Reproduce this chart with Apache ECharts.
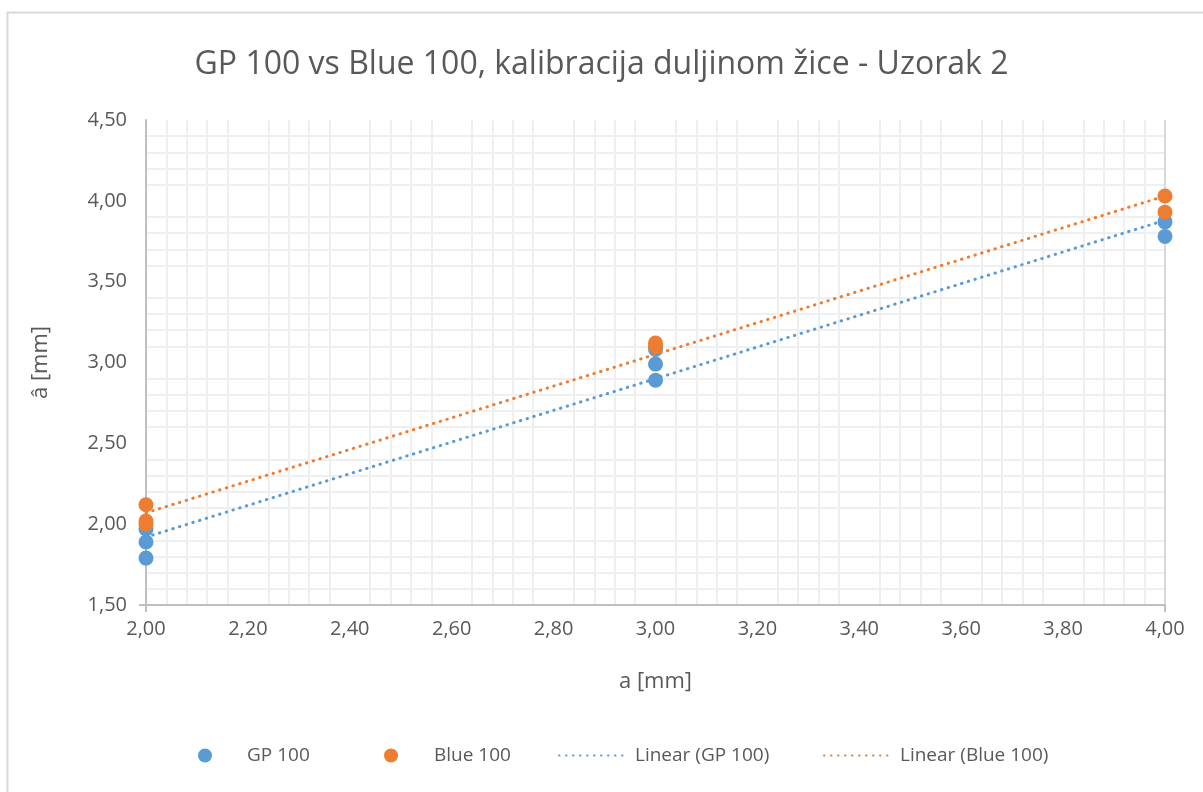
<!DOCTYPE html>
<html>
<head>
<meta charset="utf-8">
<script src="https://cdn.jsdelivr.net/npm/echarts@6/dist/echarts.min.js"></script>
<style>
  html, body { margin: 0; padding: 0; background: #fff; }
  #chart { width: 1203px; height: 792px; }
</style>
</head>
<body>
<div id="chart"></div>
<script>
// measured points (a, â)
var gpX = [2, 2, 2, 3, 3, 3, 4, 4];
var gpY = [1.79, 1.89, 1.97, 2.89, 2.99, 3.08, 3.78, 3.87];
var blueX = [2, 2, 2, 3, 3, 4, 4];
var blueY = [2.00, 2.02, 2.12, 3.10, 3.12, 3.93, 4.03];

// trend line ends
var trendX = [2, 4];
var gpTrend = [1.92, 3.88];
var blueTrend = [2.07, 4.03];

var xTicks = [2.0, 2.2, 2.4, 2.6, 2.8, 3.0, 3.2, 3.4, 3.6, 3.8, 4.0];
var yTicks = [1.5, 2.0, 2.5, 3.0, 3.5, 4.0, 4.5];

var BLUE = '#5b9bd5';
var ORANGE = '#ed7d31';
var TXT = '#595959';
var FONT = 'Open Sans';

function pairs(xs, ys) {
  return xs.map(function (x, i) { return [x, ys[i]]; });
}
function fmt(v) {
  return v.toFixed(2).replace('.', ',');
}

var chart = echarts.init(document.getElementById('chart'));

function legendAt(left, name, w, textPad, round) {
  var l = {
    left: left,
    top: 746,
    padding: 0,
    itemWidth: w,
    itemHeight: 14,
    selectedMode: false,
    data: [name],
    textStyle: { color: TXT, fontSize: 19, fontFamily: FONT, padding: [0, 0, 0, textPad] }
  };
  if (round) {
    l.icon = 'circle';
  } else {
    l.itemStyle = { opacity: 0 };
  }
  return l;
}

chart.setOption({
  animation: false,
  backgroundColor: '#fff',
  textStyle: { fontFamily: FONT },
  title: {
    text: 'GP 100 vs Blue 100, kalibracija duljinom žice - Uzorak 2',
    left: 'center',
    top: 44,
    textStyle: { color: TXT, fontSize: 32, fontWeight: 'normal', fontFamily: FONT }
  },
  graphic: [{
    type: 'rect',
    shape: { x: 7.5, y: 12.5, width: 1300, height: 900 },
    style: { fill: 'none', stroke: '#d9d9d9', lineWidth: 2 },
    silent: true
  }],
  legend: [
    legendAt(198, 'GP 100', 14, 30, true),
    legendAt(384, 'Blue 100', 14, 31, true),
    legendAt(558, 'Linear (GP 100)', 67, 4, false),
    legendAt(823, 'Linear (Blue 100)', 67, 4, false)
  ],
  grid: { left: 146, right: 38, top: 120, bottom: 187, containLabel: false },
  xAxis: {
    type: 'value',
    min: xTicks[0],
    max: xTicks[xTicks.length - 1],
    interval: 0.2,
    name: 'a [mm]',
    nameLocation: 'middle',
    nameGap: 66,
    nameTextStyle: { color: TXT, fontSize: 22, fontFamily: FONT },
    axisLine: { show: true, lineStyle: { color: '#bfbfbf', width: 2 } },
    axisTick: { show: true, length: 7, lineStyle: { color: '#bfbfbf', width: 2 },
      customValues: [xTicks[0], xTicks[xTicks.length - 1]] },
    axisLabel: { color: TXT, fontSize: 20, fontFamily: FONT, margin: 14, formatter: fmt },
    splitLine: { show: true, lineStyle: { color: '#d9d9d9', width: 2 } },
    minorTick: { show: false, splitNumber: 5 },
    minorSplitLine: { show: true, lineStyle: { color: '#efefef', width: 2 } }
  },
  yAxis: {
    type: 'value',
    min: yTicks[0],
    max: yTicks[yTicks.length - 1],
    interval: 0.5,
    name: 'â [mm]',
    nameLocation: 'middle',
    nameGap: 94,
    nameRotate: 90,
    nameTextStyle: { color: TXT, fontSize: 22, fontFamily: FONT },
    axisLine: { show: true, lineStyle: { color: '#bfbfbf', width: 2 } },
    axisTick: { show: true, length: 7, lineStyle: { color: '#bfbfbf', width: 2 },
      customValues: [yTicks[0]] },
    axisLabel: { color: TXT, fontSize: 20, fontFamily: FONT, margin: 19, formatter: fmt },
    splitLine: { show: true, lineStyle: { color: '#d9d9d9', width: 2 } },
    minorTick: { show: false, splitNumber: 5 },
    minorSplitLine: { show: true, lineStyle: { color: '#efefef', width: 2 } }
  },
  series: [
    {
      name: 'GP 100',
      type: 'scatter',
      symbolSize: 15,
      itemStyle: { color: BLUE, opacity: 1 },
      data: pairs(gpX, gpY),
      z: 3
    },
    {
      name: 'Blue 100',
      type: 'scatter',
      symbolSize: 15,
      itemStyle: { color: ORANGE, opacity: 1 },
      data: pairs(blueX, blueY),
      z: 4
    },
    {
      name: 'Linear (GP 100)',
      type: 'line',
      showSymbol: false,
      symbol: 'none',
      itemStyle: { color: BLUE },
      lineStyle: { color: BLUE, width: 3, type: [0.5, 6.5], cap: 'round' },
      data: pairs(trendX, gpTrend),
      z: 5
    },
    {
      name: 'Linear (Blue 100)',
      type: 'line',
      showSymbol: false,
      symbol: 'none',
      itemStyle: { color: ORANGE },
      lineStyle: { color: ORANGE, width: 3, type: [0.5, 6.5], cap: 'round' },
      data: pairs(trendX, blueTrend),
      z: 5
    }
  ]
});
</script>
</body>
</html>
